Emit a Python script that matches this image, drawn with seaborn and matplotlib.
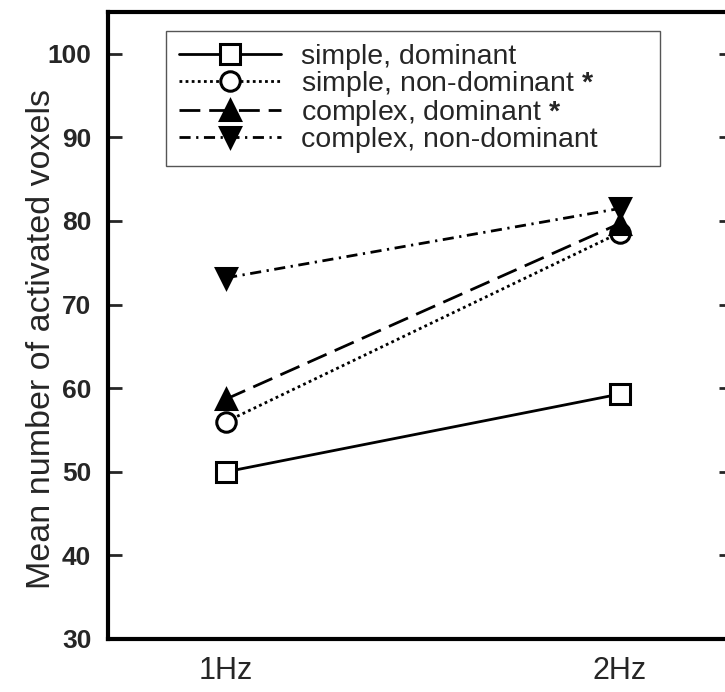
"""
Mean number of activated voxels at 1Hz / 2Hz for four conditions.
"""

import matplotlib
matplotlib.use("Agg")
import matplotlib.pyplot as plt
import seaborn as sns
import pandas as pd

# data
freq_labels = ["1Hz", "2Hz"]
freq_pos = [1, 2]
conditions = [
    "simple, dominant",
    "simple, non-dominant $\\mathbf{*}$",
    "complex, dominant $\\mathbf{*}$",
    "complex, non-dominant",
]
simple_dom = [50.0, 59.3]
simple_nondom = [56.0, 78.6]
complex_dom = [58.7, 79.7]
complex_nondom = [73.2, 81.5]
y_ticks = [30, 40, 50, 60, 70, 80, 90, 100]

sns.set_theme(style="ticks")
plt.rcParams["font.family"] = ["Liberation Sans", "DejaVu Sans"]
plt.rcParams["mathtext.fontset"] = "custom"
plt.rcParams["mathtext.rm"] = "Liberation Sans"
plt.rcParams["mathtext.bf"] = "Liberation Sans:bold"

# long-form table, one row per point
df = pd.DataFrame({
    "freq": freq_pos * 4,
    "voxels": simple_dom + simple_nondom + complex_dom + complex_nondom,
    "condition": [c for c in conditions for _ in freq_pos],
})

# line / marker style per condition
styles = {
    conditions[0]: dict(marker="s", mfc="white", dashes=[]),
    conditions[1]: dict(marker="o", mfc="white", dashes=[1.0, 1.2]),
    conditions[2]: dict(marker="^", mfc="black", dashes=[7.5, 3.2]),
    conditions[3]: dict(marker="v", mfc="black", dashes=[4, 2, 0.8, 2]),
}

fig = plt.figure(figsize=(7.25, 6.92), dpi=100)
ax = fig.add_axes([108 / 725, 1 - 639 / 692, 625 / 725, 627 / 692])

for cond in conditions:
    st = styles[cond]
    sns.lineplot(
        data=df[df["condition"] == cond], x="freq", y="voxels", ax=ax,
        color="black", linewidth=2, marker=st["marker"], markersize=14,
        markerfacecolor=st["mfc"], markeredgecolor="black", markeredgewidth=2.2,
        dashes=st["dashes"], label=cond,
    )

ax.set_xlim(0.7, 2 + 113 / 393)
ax.set_ylim(30, 105)
ax.set_xticks(freq_pos)
ax.set_xticklabels(freq_labels)
ax.set_yticks(y_ticks)
ax.set_xlabel("")
ax.set_ylabel("Mean number of activated voxels", fontsize=24.5)
ax.yaxis.set_label_coords(-0.082, 0.478)

for sp in ax.spines.values():
    sp.set_linewidth(3)
    sp.set_color("black")

ax.tick_params(axis="x", length=0, pad=12, labelsize=22)
ax.tick_params(axis="y", direction="in", length=10, width=2, pad=12,
               labelsize=19, right=True, left=True)
for lbl in ax.get_yticklabels():
    lbl.set_fontweight("bold")

# legend box stretched to the width seen in the figure
leg = ax.legend(
    loc="upper left",
    bbox_to_anchor=(166 / 725, 1 - 173 / 692, 494 / 725, 142 / 692),
    bbox_transform=fig.transFigure, mode="expand", fontsize=20.5,
    frameon=True, fancybox=False, edgecolor="#555555", framealpha=1,
    handlelength=3.6, handletextpad=0.7, labelspacing=-0.03, borderpad=0.45,
    borderaxespad=0,
)
leg.get_frame().set_linewidth(1)

fig.savefig("out.png", dpi=100)
